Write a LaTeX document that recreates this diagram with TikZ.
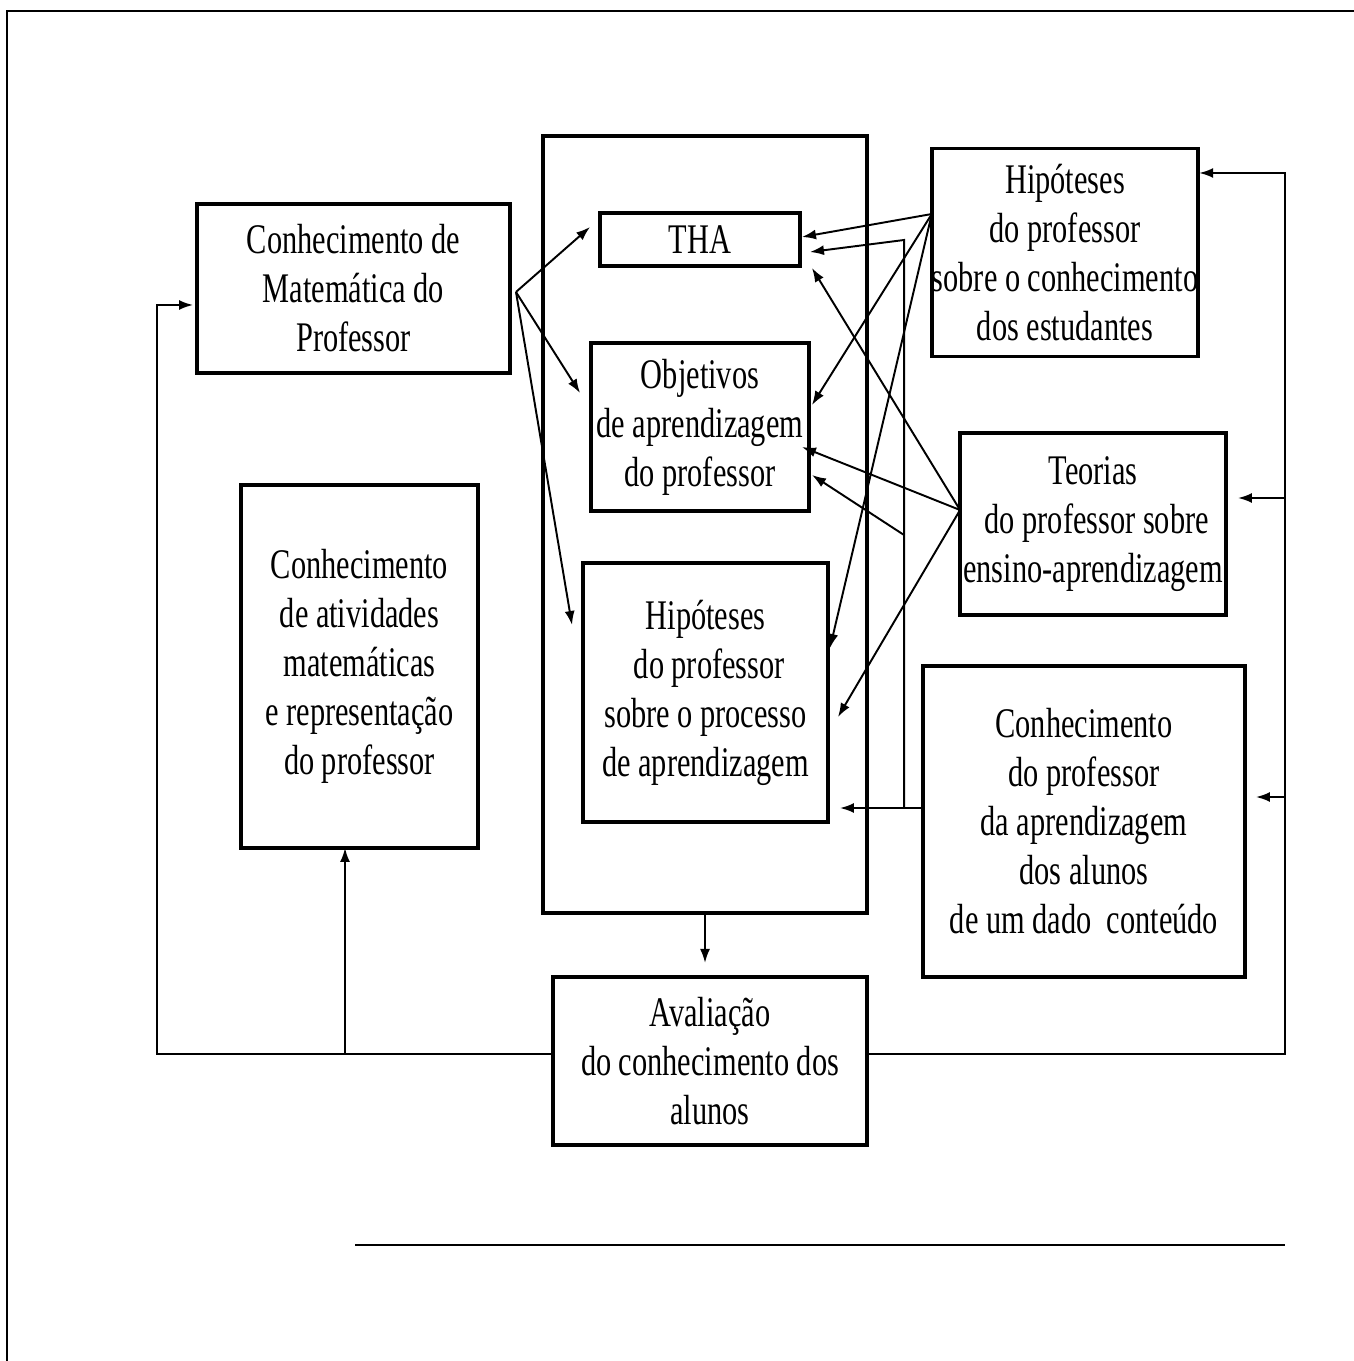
\documentclass[tikz,border=0pt]{standalone}
\usepackage{fontspec}
\setmainfont[FakeStretch=0.72]{Liberation Serif}
\usetikzlibrary{positioning,calc,arrows.meta}

\begin{document}
\begin{tikzpicture}[x=0.02cm,y=-0.02cm]
        \tikzstyle{box}=[rectangle, draw, line width=2pt, inner sep=0pt, outer sep=0pt, align=center, font=\fontsize{24}{27.9}\selectfont]
        \tikzstyle{arr}=[line width=1.1pt, -{Latex[length=0.28cm,width=0.2cm]}]

        \useasboundingbox (0,0) rectangle (1354,1361);
        \draw[line width=1.1pt] (7,1361) -- (7,11) -- (1354,11);
        \draw[line width=1.5pt] (355,1245) -- (1285,1245);

        \node[box, minimum width=6.48cm, minimum height=15.54cm] (ciclo) at (705,524.5) {};
        \node[box, minimum width=4cm, minimum height=1.06cm]    (tha)   at (700,239.5) {THA};
        \node[box, minimum width=4.36cm, minimum height=3.36cm] (obj)   at (700,427) {Objetivos\\de aprendizagem\\do professor};
        \node[box, minimum width=4.9cm, minimum height=5.18cm]  (hip)   at (705.5,692.5) {Hipóteses\\\ do professor\\sobre o processo\\de aprendizagem};
        \node[box, minimum width=6.26cm, minimum height=3.38cm] (mat)   at (353.5,288.5) {Conhecimento de\\Matemática do\\Professor};
        \node[box, minimum width=4.74cm, minimum height=7.26cm] (ativ)  at (359.5,666.5) {Conhecimento\\de atividades\\matemáticas\\e representação\\do professor};
        \node[box, minimum width=5.32cm, minimum height=4.16cm] (hest)  at (1065,252.5) {Hipóteses\\do professor\\sobre o conhecimento\\dos estudantes};
        \node[box, minimum width=5.32cm, minimum height=3.64cm] (teo)   at (1093,524) {Teorias\\\ do professor sobre\\ensino-aprendizagem};
        \node[box, minimum width=6.44cm, minimum height=6.22cm] (cprof) at (1084,821.5) {Conhecimento\\do professor\\da aprendizagem\\dos alunos\\de um dado\ \ conteúdo};
        \node[box, minimum width=6.28cm, minimum height=3.36cm] (aval)  at (710,1061) {Avaliação\\do conhecimento dos\\alunos};

        \coordinate (mfan) at ($(mat.east)+(6,3.5)$);
        \draw[arr] (mfan) -- ($(tha.west)+(-10,-12.5)$);
        \draw[arr] (mfan) -- ($(obj.west)+(-11,-34)$);
        \draw[arr] (mfan) -- ($(hip.west)+(-11,-67.5)$);

        \coordinate (hfan) at ($(hest.west)+(0,-38.5)$);
        \draw[arr] (hfan) -- ($(tha.east)+(2,-2.5)$);
        \draw[arr] (hfan) -- ($(obj.east)+(3,-22)$);
        \draw[arr] (hfan) -- ($(hip.east)+(2,-44.5)$);

        \coordinate (tfan) at ($(teo.west)+(0,-14)$);
        \draw[arr] (tfan) -- ($(tha.south east)+(12,2)$);
        \draw[arr] (tfan) -- ($(obj.east)+(-7,20)$);
        \draw[arr] (tfan) -- ($(hip.east)+(10,24.5)$);

        \coordinate (cfan) at ($(cprof.west)+(0,-13.5)$);
        \coordinate (cjun) at ($(cfan)+(-19,0)$);
        \coordinate (ctop) at ($(cjun)+(0,-568)$);
        \coordinate (cmid) at ($(cjun)+(0,-273)$);
        \draw[arr] (cfan) -- ($(hip.east)+(12,115.5)$);
        \draw[arr] (cjun) -- (ctop) -- ($(tha.east)+(10,12.5)$);
        \draw[arr] (cmid) -- ($(obj.east)+(3,48)$);

        \draw[arr] (ciclo.south) -- ++(0,50);

        \coordinate (aw) at ($(aval.west)+(0,-7)$);
        \coordinate (lc) at ($(aw)+(-396,0)$);
        \coordinate (ain) at ($(ativ.south)+(-14.5,0)$);
        \draw[arr] (aw) -- (lc) |- ($(mat.west)+(-4,16.5)$);
        \draw[arr] (ain |- aw) -- (ain);

        \coordinate (ae) at ($(aval.east)+(0,-7)$);
        \coordinate (rc) at ($(ae)+(418,0)$);
        \coordinate (hin) at ($(hest.east)+(1,-79.5)$);
        \coordinate (tin) at ($(teo.east)+(12,-26)$);
        \coordinate (cin) at ($(cprof.east)+(11,-24.5)$);
        \draw[arr] (ae) -- (rc) |- (hin);
        \draw[arr] (rc |- tin) -- (tin);
        \draw[arr] (rc |- cin) -- (cin);
    \end{tikzpicture}
\end{document}
